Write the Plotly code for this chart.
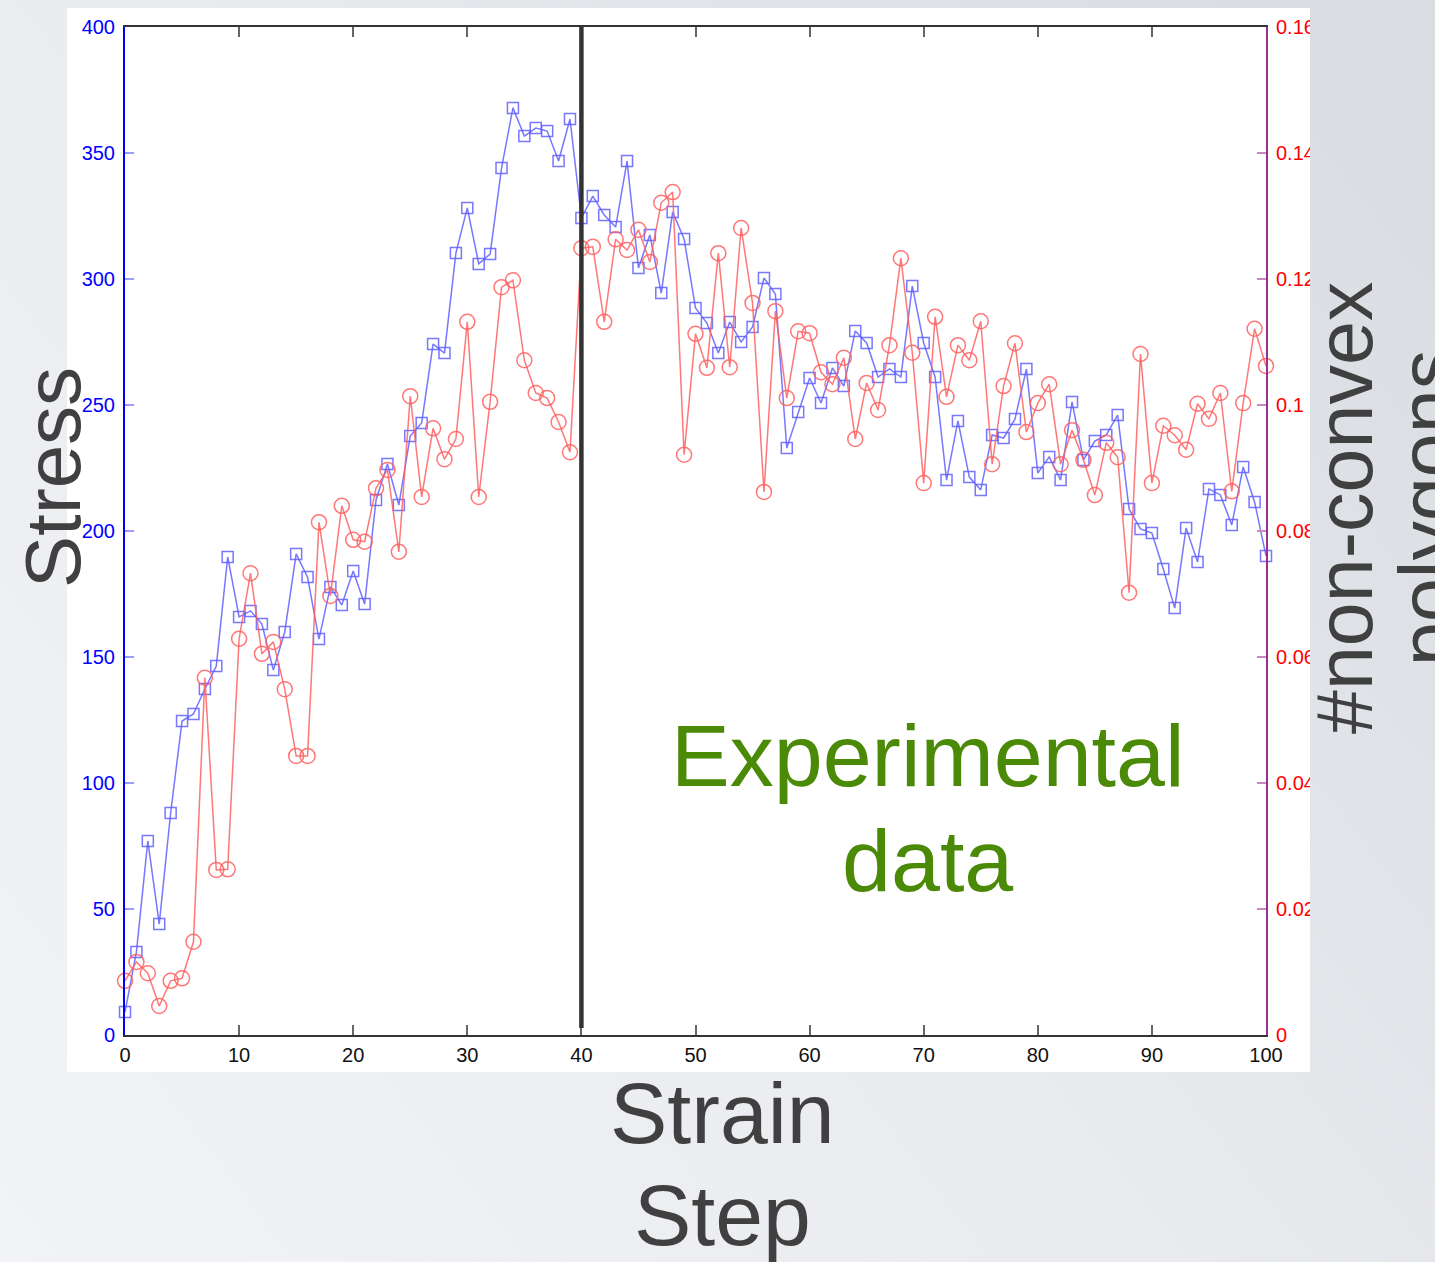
import base64
import plotly.graph_objects as go

# ---- data -------------------------------------------------------------
steps = list(range(101))

stress = [
    9.1, 32.9, 77.0, 44.0, 88.1, 124.6, 127.4, 137.3, 146.4, 189.7,
    165.9, 168.3, 163.1, 144.8, 159.9, 190.9, 181.7, 157.1, 177.8, 170.6,
    184.1, 171.0, 212.3, 226.6, 210.3, 237.7, 242.9, 274.2, 270.6, 310.3,
    328.2, 306.0, 309.9, 344.0, 367.9, 356.7, 359.9, 358.7, 346.8, 363.5,
    324.2, 332.9, 325.4, 320.6, 346.8, 304.4, 317.5, 294.4, 326.6, 315.9,
    288.5, 282.5, 270.6, 282.9, 275.0, 281.0, 300.4, 294.0, 232.9, 247.2,
    260.7, 250.8, 264.7, 257.5, 279.4, 274.6, 261.1, 264.3, 261.1, 297.2,
    274.6, 261.1, 220.2, 243.7, 221.4, 216.3, 238.1, 236.9, 244.4, 264.3,
    223.0, 229.4, 220.2, 251.2, 228.2, 235.7, 238.1, 246.0, 208.7, 200.8,
    199.2, 184.9, 169.4, 201.2, 187.7, 216.7, 214.3, 202.4, 225.4, 211.5,
    190.1,
]

nonconvex = [
    0.0086, 0.0116, 0.0098, 0.0046, 0.0086, 0.0090, 0.0148, 0.0567, 0.0262, 0.0263,
    0.0629, 0.0733, 0.0605, 0.0624, 0.0549, 0.0443, 0.0443, 0.0814, 0.0697, 0.0840,
    0.0786, 0.0783, 0.0868, 0.0897, 0.0767, 0.1014, 0.0854, 0.0963, 0.0914, 0.0946,
    0.1132, 0.0854, 0.1005, 0.1187, 0.1198, 0.1071, 0.1019, 0.1011, 0.0973, 0.0925,
    0.1249, 0.1251, 0.1132, 0.1263, 0.1246, 0.1278, 0.1227, 0.1321, 0.1338, 0.0921,
    0.1113, 0.1059, 0.1241, 0.1060, 0.1281, 0.1162, 0.0862, 0.1149, 0.1011, 0.1117,
    0.1114, 0.1052, 0.1033, 0.1075, 0.0946, 0.1035, 0.0992, 0.1095, 0.1233, 0.1083,
    0.0876, 0.1140, 0.1013, 0.1095, 0.1071, 0.1133, 0.0906, 0.1030, 0.1098, 0.0957,
    0.1003, 0.1033, 0.0906, 0.0960, 0.0913, 0.0857, 0.0940, 0.0917, 0.0702, 0.1081,
    0.0876, 0.0967, 0.0952, 0.0929, 0.1002, 0.0978, 0.1019, 0.0863, 0.1003, 0.1121,
    0.1062,
]

marker_step = 40  # step highlighted by the vertical line

# ---- page geometry ----------------------------------------------------
W, H = 1435, 1262
L, R, T, B = 125, 1266, 27, 1035  # plot area in pixels


def px(x):
    return (x - L) / (R - L)


def py(y):
    return (B - y) / (B - T)


def gradient_uri(x0, width):
    svg = (
        f"<svg xmlns='http://www.w3.org/2000/svg' width='{width}' height='{H}' "
        f"viewBox='{x0} 0 {width} {H}' preserveAspectRatio='none'>"
        "<defs><linearGradient id='g' gradientUnits='userSpaceOnUse' "
        f"x1='0' y1='{H}' x2='{W}' y2='150'>"
        "<stop offset='0' stop-color='#f1f3f6'/>"
        "<stop offset='0.5' stop-color='#e9ebef'/>"
        "<stop offset='1' stop-color='#d9dce1'/>"
        "</linearGradient></defs>"
        f"<rect x='0' y='0' width='{W}' height='{H}' fill='url(#g)'/></svg>"
    )
    return "data:image/svg+xml;base64," + base64.b64encode(svg.encode()).decode()


fig = go.Figure()

fig.add_trace(go.Scatter(
    x=steps, y=stress, mode="lines+markers", cliponaxis=False,
    line=dict(color="rgba(95,95,255,0.85)", width=1.5),
    marker=dict(symbol="square-open", size=11,
                line=dict(color="rgba(70,70,255,0.85)", width=1.5)),
    showlegend=False,
))
fig.add_trace(go.Scatter(
    x=steps, y=nonconvex, mode="lines+markers", cliponaxis=False, yaxis="y2",
    line=dict(color="rgba(255,95,95,0.85)", width=1.5),
    marker=dict(symbol="circle-open", size=15,
                line=dict(color="rgba(255,70,70,0.85)", width=1.5)),
    showlegend=False,
))

tick_font = dict(family="Liberation Sans, Arial, sans-serif", size=20)
label_font = "Liberation Sans, Arial, sans-serif"

fig.update_layout(
    width=W, height=H,
    margin=dict(l=L, r=W - R, t=T, b=H - B, pad=0),
    paper_bgcolor="#e9ebef",
    plot_bgcolor="rgba(0,0,0,0)",
    xaxis=dict(
        range=[0, 100], dtick=10, showgrid=False, zeroline=False,
        showline=True, linecolor="#333333", linewidth=2, mirror="ticks",
        ticks="inside", ticklen=10, tickwidth=2, tickcolor="#666666",
        tickfont=dict(tick_font, color="#111111"), ticklabelstandoff=1,
    ),
    yaxis=dict(
        range=[0, 400], dtick=50, showgrid=False, zeroline=False,
        showline=True, linecolor="#0000ff", linewidth=2,
        ticks="inside", ticklen=9, tickwidth=2, tickcolor="#9a9aff",
        tickfont=dict(tick_font, color="#0000ff"), ticklabelstandoff=4,
    ),
    yaxis2=dict(
        range=[0, 0.16], dtick=0.02, showgrid=False, zeroline=False,
        overlaying="y", side="right",
        showline=True, linecolor="#9b2f8e", linewidth=2,
        ticks="inside", ticklen=9, tickwidth=2, tickcolor="#c98bbf",
        tickfont=dict(tick_font, color="#ff0000"), ticklabelstandoff=4,
    ),
    images=[
        # page background
        dict(source=gradient_uri(0, W), xref="paper", yref="paper",
             x=px(0), y=py(0), sizex=W / (R - L), sizey=H / (B - T),
             xanchor="left", yanchor="top", sizing="stretch", layer="below"),
        # right margin strip drawn over the right-hand tick labels
        dict(source=gradient_uri(1310, W - 1310), xref="paper", yref="paper",
             x=px(1310), y=py(0), sizex=(W - 1310) / (R - L), sizey=H / (B - T),
             xanchor="left", yanchor="top", sizing="stretch", layer="above"),
    ],
    shapes=[
        # white figure panel
        dict(type="rect", xref="paper", yref="paper", layer="below",
             x0=px(67), x1=px(1310), y0=py(1072), y1=py(8),
             fillcolor="white", line=dict(width=0)),
        # vertical marker line
        dict(type="line", xref="x", yref="paper", layer="above",
             x0=marker_step, x1=marker_step, y0=py(1028), y1=1,
             line=dict(color="#333333", width=4.5)),
    ],
    annotations=[
        dict(text="Stress", xref="paper", yref="paper", x=px(53), y=py(478),
             textangle=-90, showarrow=False, xanchor="center", yanchor="middle",
             font=dict(family=label_font, size=78, color="#404040")),
        dict(text="Strain", xref="paper", yref="paper", x=px(722), y=py(1113),
             showarrow=False, xanchor="center", yanchor="middle",
             font=dict(family=label_font, size=86, color="#404040")),
        dict(text="Step", xref="paper", yref="paper", x=px(722), y=py(1215),
             showarrow=False, xanchor="center", yanchor="middle",
             font=dict(family=label_font, size=86, color="#404040")),
        dict(text="#non-convex", xref="paper", yref="paper", x=px(1345), y=py(508),
             textangle=-90, showarrow=False, xanchor="center", yanchor="middle",
             font=dict(family=label_font, size=79, color="#404040")),
        dict(text="polygons", xref="paper", yref="paper", x=px(1428), y=py(508),
             textangle=-90, showarrow=False, xanchor="center", yanchor="middle",
             font=dict(family=label_font, size=79, color="#404040")),
        dict(text="Experimental", xref="paper", yref="paper", x=px(928), y=py(755),
             showarrow=False, xanchor="center", yanchor="middle",
             font=dict(family=label_font, size=88, color="#4a8a06")),
        dict(text="data", xref="paper", yref="paper", x=px(927), y=py(860),
             showarrow=False, xanchor="center", yanchor="middle",
             font=dict(family=label_font, size=88, color="#4a8a06")),
    ],
)

fig.write_html("out.html")
